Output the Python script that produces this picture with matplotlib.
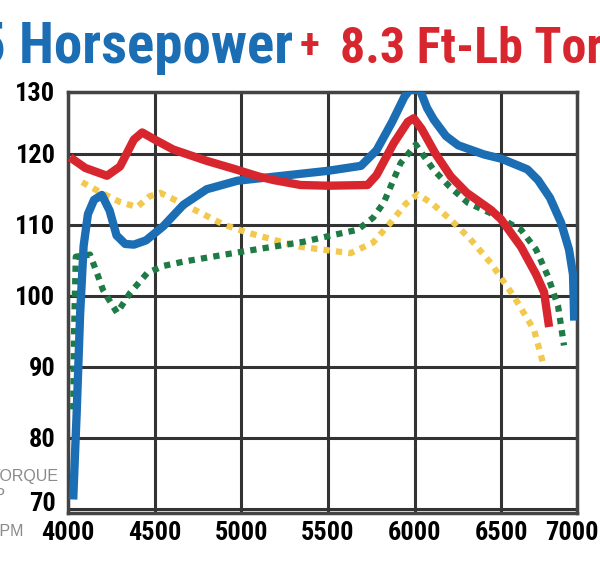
import matplotlib.pyplot as plt
from matplotlib.transforms import ScaledTranslation

# dyno curves (rpm, value)
hp_rpm = [4030, 4050, 4070, 4090, 4115, 4150, 4195, 4240, 4280, 4330, 4380, 4450, 4550, 4665,
          4800, 4977, 5200, 5500, 5690, 5780, 5870, 5940, 5970, 6030, 6070, 6110, 6180, 6250,
          6400, 6500, 6650, 6711, 6780, 6844, 6890, 6913, 6920]
hp_val = [71.3, 83.5, 97.5, 107, 111.5, 113.5, 114.2, 112, 108.5, 107.3, 107.2, 107.8, 109.8, 112.8,
          115, 116.2, 116.8, 117.6, 118.3, 120.5, 124.5, 128, 129, 129, 126.5, 124.8, 122.5, 121.2,
          119.9, 119.3, 117.8, 116.3, 113.8, 110.3, 106.5, 103, 96.5]

tq_rpm = [4012, 4100, 4225, 4300, 4380, 4428, 4500, 4607, 4800, 4954, 5100, 5185, 5341, 5500,
          5728, 5780, 5879, 5960, 5994, 6040, 6120, 6208, 6300, 6439, 6497, 6613, 6700, 6746, 6775]
tq_val = [119.5, 118, 116.9, 118.2, 122, 123, 122, 120.6, 119, 117.9, 116.8, 116.3, 115.6, 115.5,
          115.6, 117, 121.5, 124.5, 125, 123.5, 120, 116.8, 114.5, 112.1, 110.8, 106.9, 103, 100.5, 95.6]

stock_tq_rpm = [4081, 4185, 4300, 4399, 4470, 4532, 4600, 4763, 4900, 5035, 5200, 5341, 5500, 5630,
                5760, 5861, 5950, 6017, 6100, 6208, 6320, 6439, 6572, 6688, 6746]
stock_tq_val = [116, 114.6, 113.2, 112.5, 114, 114.5, 113.7, 111.7, 110, 108.9, 107.8, 106.9, 106.4, 106,
                107.5, 110.3, 113, 114.3, 113, 110.7, 108, 104.6, 99.9, 95.2, 90]

stock_hp_rpm = [4030, 4035, 4045, 4127, 4170, 4202, 4283, 4358, 4457, 4550, 4665, 4977, 5358, 5520,
                5671, 5760, 5821, 5919, 6006, 6110, 6200, 6306, 6450, 6613, 6700, 6769, 6827, 6861]
stock_hp_val = [84, 95, 105.5, 105.8, 103, 100.8, 97.6, 100.4, 103.2, 104.2, 104.8, 106.1, 107.6, 108.5,
                109.3, 111, 113.1, 118.7, 121.3, 117.7, 115.4, 113.1, 111.5, 109.3, 106.5, 102.7, 98.5, 93]

x_ticks = [4000, 4500, 5000, 5500, 6000, 6500, 6936]
x_labels = ["4000", "4500", "5000", "5500", "6000", "6500", "7000"]
y_ticks = [70, 80, 90, 100, 110, 120, 128.7]
y_labels = ["70", "80", "90", "100", "110", "120", "130"]

BLUE = "#1b6db4"
RED = "#d8262e"
GOLD = "#f2c94c"
GREEN = "#1e7b45"
narrow = ["Roboto Condensed", "DejaVu Sans"]

fig = plt.figure(figsize=(6.0, 5.63), dpi=100)
ax = fig.add_axes([68 / 600, 1 - 513 / 563, 509 / 600, 421 / 563])

ax.plot(stock_tq_rpm, stock_tq_val, color=GOLD, lw=4.5, ls=(0, (1, 1)), zorder=3)
ax.plot(stock_hp_rpm, stock_hp_val, color=GREEN, lw=4.5, ls=(0, (1, 1)), zorder=3)
ax.plot(hp_rpm, hp_val, color=BLUE, lw=6, solid_capstyle="butt", zorder=4)
ax.plot(tq_rpm, tq_val, color=RED, lw=6, solid_capstyle="butt", zorder=5)

ax.set_xlim(4000, 6936)
ax.set_ylim(69.4, 128.7)
ax.set_xticks(x_ticks)
ax.set_xticklabels(x_labels)
ax.set_yticks(y_ticks)
ax.set_yticklabels(y_labels)
ax.tick_params(length=0, labelsize=19)
ax.tick_params(axis="x", pad=6)
ax.tick_params(axis="y", pad=9)
for lab in ax.get_xticklabels() + ax.get_yticklabels():
    lab.set_family(narrow)
    lab.set_fontweight("heavy")
    lab.set_fontstretch("condensed")
# last x label sits a little inside the frame, the "70" a little above its line
xl = ax.get_xticklabels()[-1]
xl.set_transform(xl.get_transform() + ScaledTranslation(-0.05, 0, fig.dpi_scale_trans))
yl = ax.get_yticklabels()[0]
yl.set_transform(yl.get_transform() + ScaledTranslation(0, 0.07, fig.dpi_scale_trans))

ax.grid(True, color="#333333", lw=2.2)
ax.set_axisbelow(True)
for s in ax.spines.values():
    s.set_color("#444444")
    s.set_linewidth(2.5)

# title (cropped in the original)
title_kw = dict(fontweight="heavy", family=narrow, fontstretch="condensed", va="baseline")
fig.text(-0.038, 0.888, "5 Horsepower", color=BLUE, fontsize=41, **title_kw)
fig.text(0.5, 1 - 58 / 563, "+", color=RED, fontsize=30, **title_kw)
fig.text(340 / 600, 0.888, "8.3 Ft-Lb Torque", color=RED, fontsize=36, **title_kw)

# axis captions, cut at the left edge
cap_kw = dict(color="#8a8a8a", fontsize=11.5, family=["Liberation Sans", "DejaVu Sans"], va="center")
fig.text(-9.5 / 600, 1 - 476 / 563, "TORQUE", **cap_kw)
fig.text(-16 / 600, 1 - 495 / 563, "HP", **cap_kw)
fig.text(-11 / 600, 1 - 531 / 563, "RPM", **cap_kw)

fig.savefig("out.png", dpi=100)
